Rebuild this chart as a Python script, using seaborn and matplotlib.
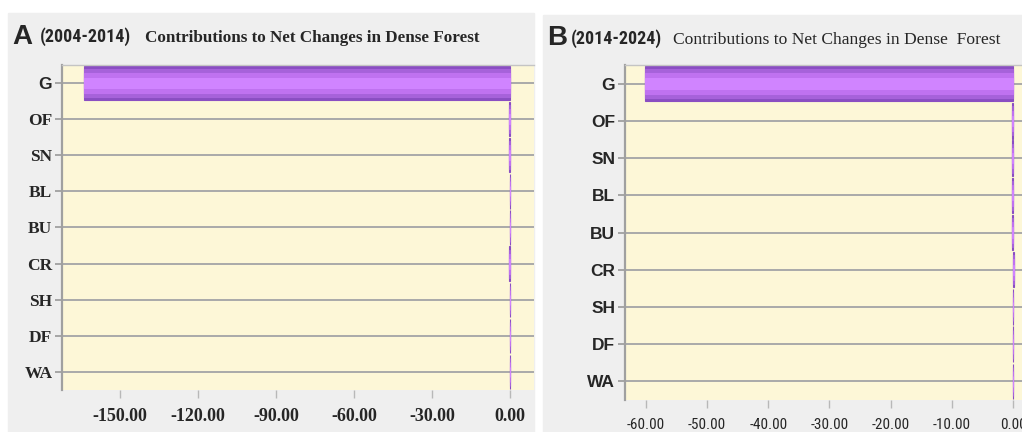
import pandas as pd
import matplotlib
matplotlib.use("Agg")
import matplotlib.pyplot as plt
import seaborn as sns
from matplotlib import font_manager
from matplotlib.patches import Rectangle

# data
cats = ["G", "OF", "SN", "BL", "BU", "CR", "SH", "DF", "WA"]
vals_a = [-164.0, -0.4, -0.3, -0.2, -0.1, -0.3, -0.1, -0.1, 0.1]
vals_b = [-60.1, -0.2, -0.1, -0.1, -0.2, 0.2, -0.05, -0.05, -0.05]
xticks_a = [-150, -120, -90, -60, -30, 0]
xticks_b = [-60, -50, -40, -30, -20, -10, 0]

sns.set_style("white")
names = {f.name for f in font_manager.fontManager.ttflist}

def pick(*cands):
    return next((c for c in cands if c in names), "DejaVu Sans")

SERIF = pick("Liberation Serif", "DejaVu Serif")
SANS = pick("Liberation Sans", "DejaVu Sans")
NARROW = pick("Liberation Sans Narrow", "DejaVu Sans Condensed", "Roboto Condensed", "Liberation Sans")
plt.rcParams["font.family"] = [SANS, "DejaVu Sans"]

W, H = 1022, 432
YELLOW = "#fdf7d7"
GRID = "#a9a9a9"


def box(x0, y0, x1, y1):
    return [x0 / W, 1 - y1 / H, (x1 - x0) / W, (y1 - y0) / H]


fig = plt.figure(figsize=(W / 100, H / 100), dpi=100)
fig.patch.set_facecolor("white")
# grey panel backgrounds
for x0, y0, x1 in [(8, 13, 534), (543, 15, 1022)]:
    fig.patches.append(Rectangle((x0 / W, 0), (x1 - x0) / W, 1 - y0 / H,
                                 transform=fig.transFigure, color="#efefef", zorder=-5))

ax_a = fig.add_axes(box(62, 65, 534, 390))
ax_b = fig.add_axes(box(625, 65, 1022, 400))


def draw(ax, vals, xlim, xticks):
    df = pd.DataFrame({"cat": cats, "val": vals})
    # layered bars to fake the shaded purple look
    for w, c in zip([0.95, 0.78, 0.55, 0.28], ["#8a4ec2", "#a662da", "#bf72f0", "#d084ff"]):
        sns.barplot(data=df, x="val", y="cat", orient="h", order=cats, color=c,
                    width=w, saturation=1, errorbar=None, ax=ax,
                    edgecolor=c, linewidth=0.8)
    ax.set_zorder(2)
    ax.set_xlim(*xlim)
    ax.set_ylim(8.5, -0.5)
    ax.set_xlabel("")
    ax.set_ylabel("")
    ax.set_facecolor(YELLOW)
    ax.set_axisbelow(True)
    ax.yaxis.grid(True, color=GRID, lw=1.4)
    ax.xaxis.grid(False)
    for s in ["right", "bottom"]:
        ax.spines[s].set_visible(False)
    ax.spines["left"].set_color("#a0a0a0")
    ax.spines["left"].set_linewidth(1.6)
    ax.spines["top"].set_color("#c4c4c4")
    ax.spines["top"].set_linewidth(1.0)
    ax.set_xticks(xticks)
    ax.set_xticklabels([f"{t:.2f}" for t in xticks])
    ax.tick_params(axis="y", length=5, width=1.3, color="#a0a0a0", pad=2, left=True)
    ax.tick_params(axis="x", length=6, width=1.0, color="#b8b8b8", pad=7, bottom=True)


draw(ax_a, vals_a, (-172.3, 9.2), xticks_a)
draw(ax_b, vals_b, (-63.4, 1.47), xticks_b)

# panel A fonts: condensed-looking serif bold
for lab in ax_a.get_xticklabels():
    lab.set_fontfamily(SERIF)
    lab.set_fontweight("bold")
    lab.set_fontsize(13)
for lab in ax_a.get_yticklabels():
    lab.set_fontfamily(SANS if lab.get_text() == "G" else SERIF)
    lab.set_fontweight("bold")
    lab.set_fontsize(12.5)

# panel B fonts: sans
for lab in ax_b.get_xticklabels():
    lab.set_fontfamily(NARROW)
    lab.set_fontsize(11)
for lab in ax_b.get_yticklabels():
    lab.set_fontfamily(SANS)
    lab.set_fontweight("bold")
    lab.set_fontsize(12.5)


def put(x, y, s, **kw):
    fig.text(x / W, 1 - y / H, s, va="baseline", ha="left", **kw)


put(12, 44, "A", fontsize=20, fontweight="bold", family=SANS)
put(40, 42, "(2004-2014)", fontsize=13, fontweight="bold", family=NARROW)
put(145, 42, "Contributions to Net Changes in Dense Forest", fontsize=12.3,
    fontweight="bold", family=SERIF)

put(547, 45, "B", fontsize=20, fontweight="bold", family=SANS)
put(571, 44, "(2014-2024)", fontsize=13, fontweight="bold", family=NARROW)
put(673, 44, "Contributions to Net Changes in Dense  Forest", fontsize=12.6,
    family=SERIF)

fig.savefig("out.png", dpi=100)
